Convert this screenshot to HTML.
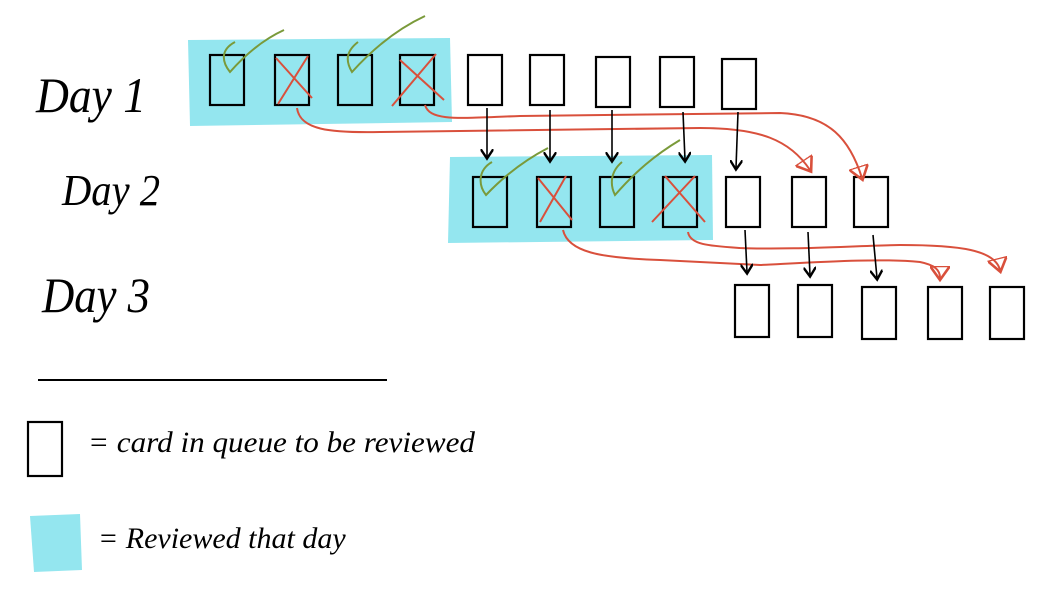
<!DOCTYPE html>
<html><head><meta charset="utf-8"><style>
html,body{margin:0;padding:0;background:#fff;width:1040px;height:602px;overflow:hidden}
svg text{font-family:"Liberation Serif",serif;font-style:italic;fill:#000}
</style></head><body>
<svg width="1040" height="602" viewBox="0 0 1040 602" xmlns="http://www.w3.org/2000/svg">
<defs>
<marker id="ab" markerWidth="8" markerHeight="8" refX="5" refY="4" orient="auto"><path d="M0,0 L6,4 L0,8" fill="none" stroke="#000" stroke-width="1.5"/></marker>
<marker id="ar" markerWidth="10" markerHeight="10" refX="6" refY="5" orient="auto"><path d="M0,0 L7,5 L0,10 Z" fill="none" stroke="#d9503c" stroke-width="1.3"/></marker>
</defs>
<path d="M188,40 L450,38 L452,122 L190,126 Z" fill="#94e6ef"/>
<path d="M450,157 L712,155 L713,240 L448,243 Z" fill="#94e6ef"/>
<path d="M30,516 L80,514 L82,570 L34,572 Z" fill="#94e6ef"/>
<g fill="none" stroke="#000" stroke-width="2.2">
<rect x="210" y="55" width="34" height="50"/><rect x="275" y="55" width="34" height="50"/>
<rect x="338" y="55" width="34" height="50"/><rect x="400" y="55" width="34" height="50"/>
<rect x="468" y="55" width="34" height="50"/><rect x="530" y="55" width="34" height="50"/>
<rect x="596" y="57" width="34" height="50"/><rect x="660" y="57" width="34" height="50"/>
<rect x="722" y="59" width="34" height="50"/>
<rect x="473" y="177" width="34" height="50"/><rect x="537" y="177" width="34" height="50"/>
<rect x="600" y="177" width="34" height="50"/><rect x="663" y="177" width="34" height="50"/>
<rect x="726" y="177" width="34" height="50"/><rect x="792" y="177" width="34" height="50"/>
<rect x="854" y="177" width="34" height="50"/>
<rect x="735" y="285" width="34" height="52"/><rect x="798" y="285" width="34" height="52"/>
<rect x="862" y="287" width="34" height="52"/><rect x="928" y="287" width="34" height="52"/>
<rect x="990" y="287" width="34" height="52"/>
<rect x="28" y="422" width="34" height="54"/>
</g>
<line x1="38" y1="380" x2="387" y2="380" stroke="#000" stroke-width="2"/>
<g fill="none" stroke="#7a9a3a" stroke-width="2">
<path d="M235,42 C220,50 222,62 230,72 C245,55 262,40 284,30"/>
<path d="M358,42 C345,52 346,62 352,72 C370,52 395,30 425,16"/>
<path d="M492,162 C478,170 478,185 486,195 C505,175 525,160 548,148"/>
<path d="M622,162 C610,172 610,185 615,195 C635,172 655,155 680,140"/>
</g>
<g fill="none" stroke="#d9503c" stroke-width="2">
<path d="M276,58 L312,98 M308,56 L278,104"/>
<path d="M400,60 L444,100 M436,54 L392,106"/>
<path d="M538,178 L572,220 M566,176 L540,222"/>
<path d="M665,176 L705,222 M695,176 L652,222"/>
<path d="M297,108 C300,130 330,133 380,132 L700,128 C760,128 790,140 810,170" marker-end="url(#ar)"/>
<path d="M425,105 C430,122 460,118 520,116 L780,113 C830,115 850,140 862,178" marker-end="url(#ar)"/>
<path d="M563,230 C568,252 600,258 660,260 L760,265 C820,262 880,258 920,262 C935,265 940,270 940,278" marker-end="url(#ar)"/>
<path d="M688,232 C690,245 710,246 740,248 C790,250 850,246 900,245 C960,245 995,250 1000,270" marker-end="url(#ar)"/>
</g>
<g stroke="#000" stroke-width="1.6" fill="none">
<path d="M487,108 L487,157" marker-end="url(#ab)"/>
<path d="M550,110 L550,160" marker-end="url(#ab)"/>
<path d="M612,110 L612,160" marker-end="url(#ab)"/>
<path d="M683,112 L685,160" marker-end="url(#ab)"/>
<path d="M738,112 L736,168" marker-end="url(#ab)"/>
<path d="M745,230 L747,272" marker-end="url(#ab)"/>
<path d="M808,232 L810,275" marker-end="url(#ab)"/>
<path d="M873,235 L877,278" marker-end="url(#ab)"/>
</g>
<text x="36" y="112" font-size="50" textLength="110" lengthAdjust="spacingAndGlyphs">Day 1</text>
<text x="62" y="205" font-size="44" textLength="98" lengthAdjust="spacingAndGlyphs">Day 2</text>
<text x="42" y="312" font-size="50" textLength="108" lengthAdjust="spacingAndGlyphs">Day 3</text>
<text x="88" y="452" font-size="30" textLength="387" lengthAdjust="spacingAndGlyphs">= card in queue to be reviewed</text>
<text x="98" y="548" font-size="30">= Reviewed that day</text>
</svg>
</body></html>
